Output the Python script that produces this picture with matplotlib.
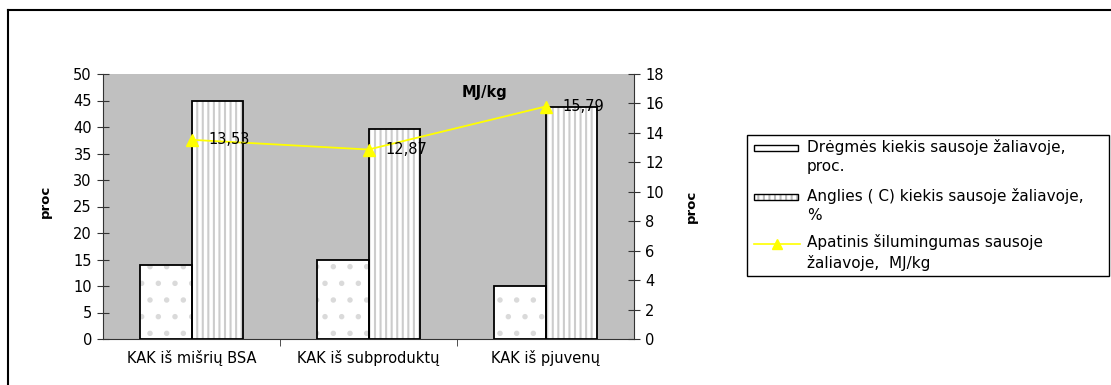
import matplotlib
matplotlib.use("Agg")
import matplotlib.pyplot as plt
from matplotlib.patches import Rectangle
from matplotlib.lines import Line2D
import numpy as np

plt.rcParams['font.family'] = ['DejaVu Sans']

categories = ["KAK iš mišrių BSA", "KAK iš subproduktų", "KAK iš pjuvenų"]
moisture = [14.0, 15.0, 10.0]
carbon = [45.0, 39.6, 43.8]
heat = [13.53, 12.87, 15.79]
heat_labels = ["13,53", "12,87", "15,79"]
left_ticks = [0, 5, 10, 15, 20, 25, 30, 35, 40, 45, 50]
right_ticks = [0, 2, 4, 6, 8, 10, 12, 14, 16, 18]
legend_labels = ["Drėgmės kiekis sausoje žaliavoje,\nproc.",
                 "Anglies ( C) kiekis sausoje žaliavoje,\n%",
                 "Apatinis šilumingumas sausoje\nžaliavoje,  MJ/kg"]

W, H = 1111, 385
fig = plt.figure(figsize=(W / 100, H / 100), dpi=100)

def fx(px):
    return px / W

def fy(py):
    return 1 - py / H

FS = 10.5

ax = fig.add_axes([fx(103), fy(339), fx(634) - fx(103), fy(74) - fy(339)])
ax.set_facecolor('#c0c0c0')
x = np.arange(len(categories))
bw = 0.29

plt.rcParams['hatch.linewidth'] = 1.5
ax.bar(x - bw / 2, moisture, bw, color='white', edgecolor='#dadada', hatch='.', linewidth=0, zorder=2)
ax.bar(x + bw / 2, carbon, bw, color='white', edgecolor='#cccccc', hatch='|||', linewidth=0, zorder=2)
ax.bar(x - bw / 2, moisture, bw, facecolor='none', edgecolor='black', linewidth=1.3, zorder=3)
ax.bar(x + bw / 2, carbon, bw, facecolor='none', edgecolor='black', linewidth=1.3, zorder=3)

ax.set_xlim(-0.5, len(categories) - 0.5)
ax.set_ylim(0, 50)
ax.set_yticks(left_ticks)
ax.set_xticks(x)
ax.set_xticklabels(categories, fontsize=FS)
ax.set_xticks(np.arange(1, len(categories)) - 0.5, minor=True)
ax.tick_params(axis='x', which='major', length=0, pad=8)
ax.tick_params(axis='x', which='minor', length=5, direction='out', color='#333333')
ax.tick_params(axis='y', direction='inout', length=8, labelsize=FS, color='#333333', pad=4)
for s in ['top', 'right']:
    ax.spines[s].set_visible(False)
ax.spines['left'].set_color('#333333')
ax.spines['bottom'].set_color('#333333')
ax.set_ylabel('proc', fontsize=9.5, fontweight='bold')
ax.yaxis.set_label_coords((52 - 103) / 531, 0.52)

ax2 = ax.twinx()
ax2.set_ylim(0, 18)
ax2.set_yticks(right_ticks)
ax2.tick_params(axis='y', direction='inout', length=8, labelsize=FS, color='#333333', pad=4)
for s in ['top', 'left', 'bottom']:
    ax2.spines[s].set_visible(False)
ax2.spines['right'].set_color('#333333')
ax2.plot(x, heat, color='#ffff00', linewidth=1.3, marker='^', markersize=8, zorder=5)
for xi, v, lab in zip(x, heat, heat_labels):
    ax2.annotate(lab, (xi, v), xytext=(12, 0), textcoords='offset points',
                 ha='left', va='center', fontsize=FS, zorder=6)
ax2.set_ylabel('proc', fontsize=9.5, fontweight='bold', rotation=90)
ax2.yaxis.set_label_coords((685 - 103) / 531, 0.5)
ax2.text((484 - 103) / 531, (339 - 93) / 265, 'MJ/kg', transform=ax.transAxes,
         fontsize=10.5, fontweight='bold', ha='center', va='center')

# outer border
fig.add_artist(Line2D([fx(8), 1], [fy(10), fy(10)], color='black', linewidth=1.5))
fig.add_artist(Line2D([fx(8), fx(8)], [fy(10), 0], color='black', linewidth=1.5))

# legend (manual)
fig.add_artist(Rectangle((fx(747), fy(276)), fx(1109) - fx(747), fy(135) - fy(276),
                         facecolor='white', edgecolor='black', linewidth=1.0))
tx = fx(807)
rows = [148, 197, 243]
fig.add_artist(Rectangle((fx(754), fy(151)), fx(798) - fx(754), fy(145) - fy(151),
                         facecolor='white', edgecolor='black', linewidth=1.0))
fig.add_artist(Rectangle((fx(754), fy(200)), fx(798) - fx(754), fy(194) - fy(200),
                         facecolor='white', edgecolor='#bbbbbb', hatch='|||', linewidth=0))
fig.add_artist(Rectangle((fx(754), fy(200)), fx(798) - fx(754), fy(194) - fy(200),
                         facecolor='none', edgecolor='black', linewidth=1.0))
fig.add_artist(Line2D([fx(754), fx(800)], [fy(244), fy(244)], color='#ffff00', linewidth=1.2))
fig.add_artist(Line2D([fx(777)], [fy(244)], color='#ffff00', marker='^', markersize=7,
                      linestyle='none'))
for r, lab in zip(rows, legend_labels):
    fig.text(tx, fy(r - 9), lab, fontsize=11, ha='left', va='top', linespacing=1.35)

fig.savefig('out.png', dpi=100)
